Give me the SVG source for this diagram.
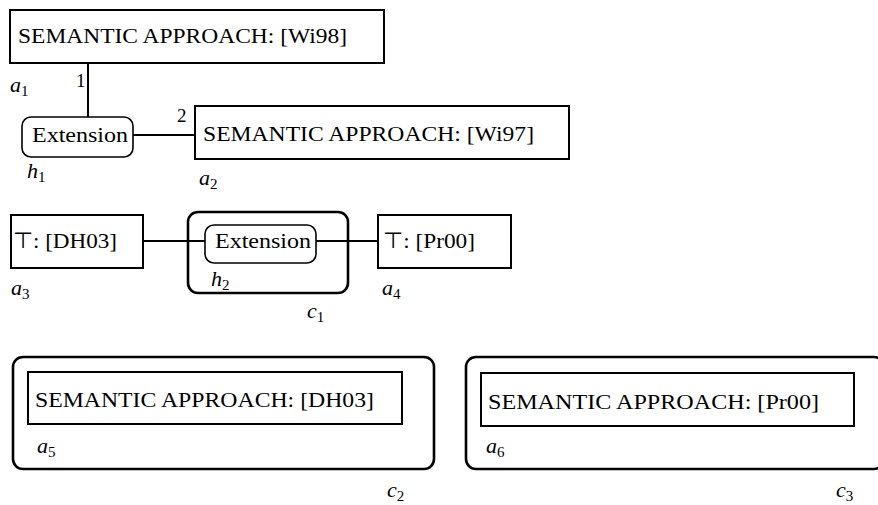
<svg xmlns="http://www.w3.org/2000/svg" width="878" height="505" viewBox="0 0 878 505">
<style>
  text { font-family: "Liberation Serif", "Times New Roman", serif; fill: #000; }
  .t { font-size: 22px; }
  .lbl { font-size: 22px; font-style: italic; }
  .sub { font-size: 15px; font-style: normal; }
  .num { font-size: 19px; }
  .box { fill: #fff; stroke: #000; stroke-width: 2; }
  .hyp { fill: #fff; stroke: #000; stroke-width: 1.6; }
  .ctx { fill: none; stroke: #000; stroke-width: 2.6; }
  .edge { stroke: #000; stroke-width: 2; fill: none; }
</style>
<rect width="878" height="505" fill="#fff"/>

<g id="connectors">
  <line class="edge" x1="88" y1="63" x2="88" y2="117"/>
  <line class="edge" x1="133" y1="135" x2="195" y2="135"/>
  <line class="edge" x1="143" y1="241" x2="205" y2="241"/>
  <line class="edge" x1="316" y1="241" x2="378" y2="241"/>
  <text class="num" x="76" y="87">1</text>
  <text class="num" x="177" y="122">2</text>
</g>

<g id="a1">
  <rect class="box" x="10" y="10" width="374" height="53"/>
  <text class="t" x="18" y="43" textLength="329" lengthAdjust="spacingAndGlyphs">SEMANTIC APPROACH: [Wi98]</text>
  <text class="lbl" x="10" y="92">a<tspan class="sub" dy="4">1</tspan></text>
</g>

<g id="h1">
  <rect class="hyp" x="22" y="117" width="111" height="40" rx="9"/>
  <text class="t" x="32" y="142" textLength="96" lengthAdjust="spacingAndGlyphs">Extension</text>
  <text class="lbl" x="27" y="178">h<tspan class="sub" dy="4">1</tspan></text>
</g>

<g id="a2">
  <rect class="box" x="195" y="106" width="374" height="53"/>
  <text class="t" x="203" y="141" textLength="331" lengthAdjust="spacingAndGlyphs">SEMANTIC APPROACH: [Wi97]</text>
  <text class="lbl" x="199" y="185">a<tspan class="sub" dy="4">2</tspan></text>
</g>

<g id="a3">
  <rect class="box" x="11" y="215" width="132" height="53"/>
  <text class="t" x="13" y="248" textLength="104" lengthAdjust="spacingAndGlyphs">⊤: [DH03]</text>
  <text class="lbl" x="11" y="295">a<tspan class="sub" dy="4">3</tspan></text>
</g>

<g id="c1">
  <rect class="ctx" x="188" y="212" width="160" height="81" rx="10"/>
  <text class="lbl" x="307" y="318">c<tspan class="sub" dy="4">1</tspan></text>
</g>

<g id="h2">
  <rect class="hyp" x="205" y="225" width="111" height="38" rx="9"/>
  <text class="t" x="215" y="248" textLength="96" lengthAdjust="spacingAndGlyphs">Extension</text>
  <text class="lbl" x="211" y="286">h<tspan class="sub" dy="4">2</tspan></text>
</g>

<g id="a4">
  <rect class="box" x="378" y="215" width="133" height="53"/>
  <text class="t" x="383" y="248" textLength="92" lengthAdjust="spacingAndGlyphs">⊤: [Pr00]</text>
  <text class="lbl" x="382" y="295">a<tspan class="sub" dy="4">4</tspan></text>
</g>

<g id="c2">
  <rect class="ctx" x="13" y="357" width="421" height="112" rx="10"/>
  <text class="lbl" x="387" y="497">c<tspan class="sub" dy="4">2</tspan></text>
</g>

<g id="a5">
  <rect class="box" x="28" y="372" width="374" height="52"/>
  <text class="t" x="35" y="407" textLength="339" lengthAdjust="spacingAndGlyphs">SEMANTIC APPROACH: [DH03]</text>
  <text class="lbl" x="37" y="453">a<tspan class="sub" dy="4">5</tspan></text>
</g>

<g id="c3">
  <rect class="ctx" x="466" y="357" width="418" height="112" rx="10"/>
  <text class="lbl" x="836" y="497">c<tspan class="sub" dy="4">3</tspan></text>
</g>

<g id="a6">
  <rect class="box" x="481" y="373" width="373" height="53"/>
  <text class="t" x="488" y="409" textLength="331" lengthAdjust="spacingAndGlyphs">SEMANTIC APPROACH: [Pr00]</text>
  <text class="lbl" x="486" y="453">a<tspan class="sub" dy="4">6</tspan></text>
</g>
</svg>
